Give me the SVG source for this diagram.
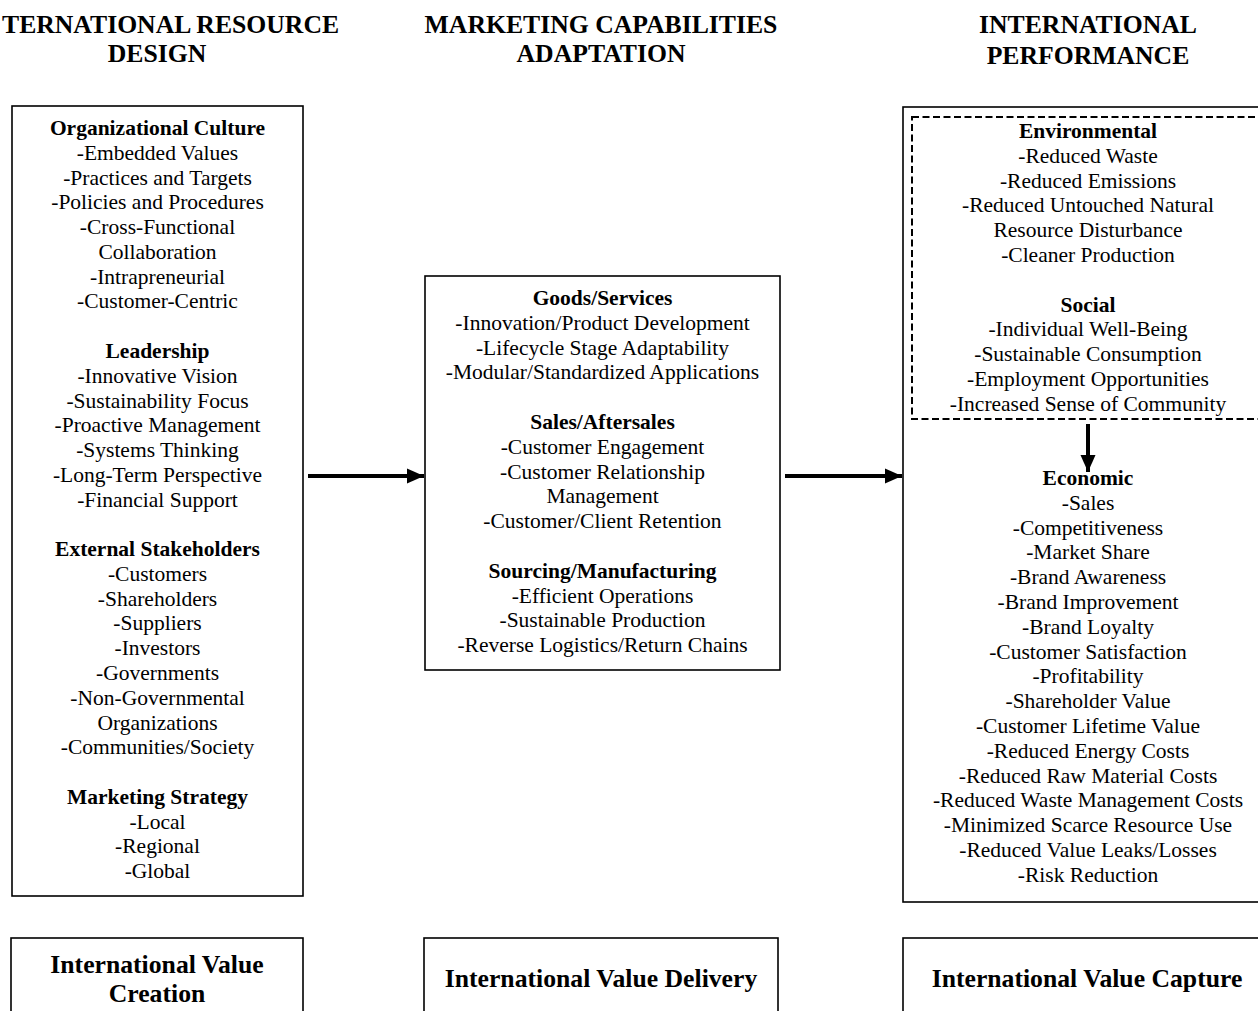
<svg xmlns="http://www.w3.org/2000/svg" width="1258" height="1011" viewBox="0 0 1258 1011">
<style>
.box{fill:#fff;stroke:#000;stroke-width:1.6}
.dash{fill:none;stroke:#000;stroke-width:2;stroke-dasharray:7 3.5}
text{font-family:"Liberation Serif","Times New Roman","DejaVu Serif",serif;fill:#000}
.t{font-size:21.5px;text-anchor:middle}
.b{font-weight:bold}
.h{font-size:25.7px;font-weight:bold;text-anchor:middle}
.conn{stroke:#000;stroke-width:4;fill:none}
</style>
<defs>
<marker id="ah" markerUnits="userSpaceOnUse" markerWidth="18" markerHeight="18" viewBox="0 0 18 18" refX="17" refY="9" orient="auto">
<path d="M0,1.5 L17,9 L0,16.5 Z" fill="#000"/>
</marker>
</defs>

<g id="headers">
<text class="h" x="2" y="33" style="text-anchor:start">TERNATIONAL RESOURCE</text>
<text class="h" x="157" y="62">DESIGN</text>
<text class="h" x="601" y="33">MARKETING CAPABILITIES</text>
<text class="h" x="601" y="62">ADAPTATION</text>
<text class="h" x="1088" y="33">INTERNATIONAL</text>
<text class="h" x="1088" y="64">PERFORMANCE</text>
</g>

<g id="resource-design">
<rect class="box" x="12" y="106" width="291" height="790"/>
<text class="t b" x="157.5" y="135">Organizational Culture</text>
<text class="t" x="157.5" y="159.8">-Embedded Values</text>
<text class="t" x="157.5" y="184.5">-Practices and Targets</text>
<text class="t" x="157.5" y="209.3">-Policies and Procedures</text>
<text class="t" x="157.5" y="234.1">-Cross-Functional</text>
<text class="t" x="157.5" y="258.9">Collaboration</text>
<text class="t" x="157.5" y="283.6">-Intrapreneurial</text>
<text class="t" x="157.5" y="308.4">-Customer-Centric</text>
<text class="t b" x="157.5" y="357.9">Leadership</text>
<text class="t" x="157.5" y="382.7">-Innovative Vision</text>
<text class="t" x="157.5" y="407.5">-Sustainability Focus</text>
<text class="t" x="157.5" y="432.2">-Proactive Management</text>
<text class="t" x="157.5" y="457">-Systems Thinking</text>
<text class="t" x="157.5" y="481.8">-Long-Term Perspective</text>
<text class="t" x="157.5" y="506.6">-Financial Support</text>
<text class="t b" x="157.5" y="556.1">External Stakeholders</text>
<text class="t" x="157.5" y="580.9">-Customers</text>
<text class="t" x="157.5" y="605.6">-Shareholders</text>
<text class="t" x="157.5" y="630.4">-Suppliers</text>
<text class="t" x="157.5" y="655.2">-Investors</text>
<text class="t" x="157.5" y="679.9">-Governments</text>
<text class="t" x="157.5" y="704.7">-Non-Governmental</text>
<text class="t" x="157.5" y="729.5">Organizations</text>
<text class="t" x="157.5" y="754.3">-Communities/Society</text>
<text class="t b" x="157.5" y="803.8">Marketing Strategy</text>
<text class="t" x="157.5" y="828.6">-Local</text>
<text class="t" x="157.5" y="853.3">-Regional</text>
<text class="t" x="157.5" y="878.1">-Global</text>
</g>

<g id="capabilities-adaptation">
<rect class="box" x="425" y="276" width="355" height="394"/>
<text class="t b" x="602.5" y="305">Goods/Services</text>
<text class="t" x="602.5" y="329.8">-Innovation/Product Development</text>
<text class="t" x="602.5" y="354.6">-Lifecycle Stage Adaptability</text>
<text class="t" x="602.5" y="379.4">-Modular/Standardized Applications</text>
<text class="t b" x="602.5" y="429">Sales/Aftersales</text>
<text class="t" x="602.5" y="453.8">-Customer Engagement</text>
<text class="t" x="602.5" y="478.6">-Customer Relationship</text>
<text class="t" x="602.5" y="503.4">Management</text>
<text class="t" x="602.5" y="528.2">-Customer/Client Retention</text>
<text class="t b" x="602.5" y="577.8">Sourcing/Manufacturing</text>
<text class="t" x="602.5" y="602.6">-Efficient Operations</text>
<text class="t" x="602.5" y="627.4">-Sustainable Production</text>
<text class="t" x="602.5" y="652.2">-Reverse Logistics/Return Chains</text>
</g>

<g id="international-performance">
<rect class="box" x="903" y="107" width="372" height="795"/>
<rect class="dash" x="912" y="117" width="356" height="302"/>
<text class="t b" x="1088" y="138">Environmental</text>
<text class="t" x="1088" y="162.8">-Reduced Waste</text>
<text class="t" x="1088" y="187.6">-Reduced Emissions</text>
<text class="t" x="1088" y="212.4">-Reduced Untouched Natural</text>
<text class="t" x="1088" y="237.2">Resource Disturbance</text>
<text class="t" x="1088" y="262">-Cleaner Production</text>
<text class="t b" x="1088" y="311.6">Social</text>
<text class="t" x="1088" y="336.4">-Individual Well-Being</text>
<text class="t" x="1088" y="361.2">-Sustainable Consumption</text>
<text class="t" x="1088" y="386">-Employment Opportunities</text>
<text class="t" x="1088" y="410.8">-Increased Sense of Community</text>
<text class="t b" x="1088" y="485">Economic</text>
<text class="t" x="1088" y="509.8">-Sales</text>
<text class="t" x="1088" y="534.6">-Competitiveness</text>
<text class="t" x="1088" y="559.4">-Market Share</text>
<text class="t" x="1088" y="584.2">-Brand Awareness</text>
<text class="t" x="1088" y="609">-Brand Improvement</text>
<text class="t" x="1088" y="633.8">-Brand Loyalty</text>
<text class="t" x="1088" y="658.6">-Customer Satisfaction</text>
<text class="t" x="1088" y="683.4">-Profitability</text>
<text class="t" x="1088" y="708.2">-Shareholder Value</text>
<text class="t" x="1088" y="733">-Customer Lifetime Value</text>
<text class="t" x="1088" y="757.8">-Reduced Energy Costs</text>
<text class="t" x="1088" y="782.6">-Reduced Raw Material Costs</text>
<text class="t" x="1088" y="807.4">-Reduced Waste Management Costs</text>
<text class="t" x="1088" y="832.2">-Minimized Scarce Resource Use</text>
<text class="t" x="1088" y="857">-Reduced Value Leaks/Losses</text>
<text class="t" x="1088" y="881.8">-Risk Reduction</text>
</g>

<g id="value-creation">
<rect class="box" x="11" y="938" width="292" height="90"/>
<text class="h" x="157" y="973">International Value</text>
<text class="h" x="157" y="1002">Creation</text>
</g>
<g id="value-delivery">
<rect class="box" x="424" y="938" width="354" height="90"/>
<text class="h" x="601" y="987">International Value Delivery</text>
</g>
<g id="value-capture">
<rect class="box" x="903" y="938" width="372" height="90"/>
<text class="h" x="1087" y="987">International Value Capture</text>
</g>

<g id="connectors">
<line class="conn" x1="308" y1="476" x2="424" y2="476" marker-end="url(#ah)"/>
<line class="conn" x1="785" y1="476" x2="902" y2="476" marker-end="url(#ah)"/>
<line class="conn" x1="1088" y1="424" x2="1088" y2="472" marker-end="url(#ah)"/>
</g>
</svg>
